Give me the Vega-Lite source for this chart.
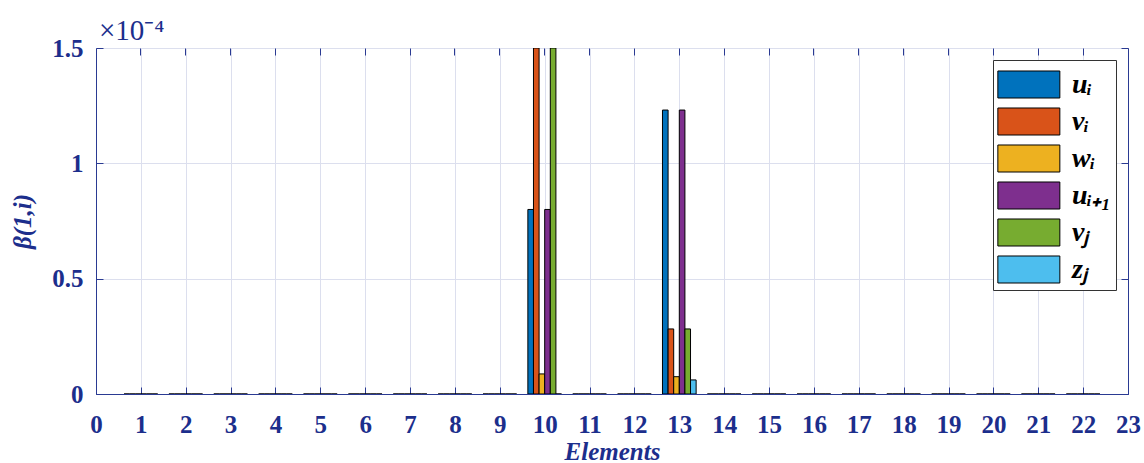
{
  "$schema": "https://vega.github.io/schema/vega-lite/v6.json",
  "width": 1032,
  "height": 346,
  "autosize": {"type": "none"},
  "padding": {"left": 96, "top": 48, "right": 16, "bottom": 69},
  "background": "white",
  "title": {"text": "×10⁻⁴", "anchor": "start", "frame": "group", "font": "Liberation Serif", "fontSize": 29, "fontWeight": "normal", "color": "#1c2e8c", "offset": 4, "dx": 3, "dy": 14},
  "config": {
    "view": {"stroke": "#2a3a92", "strokeWidth": 1},
    "axis": {"domainColor": "#2a3a92", "tickColor": "#2a3a92", "gridColor": "#dcdfee", "labelFont": "Liberation Serif", "labelFontWeight": "bold", "labelFontSize": 25, "labelColor": "#1c2e8c", "titleFont": "Liberation Serif", "titleFontWeight": "bold", "titleFontStyle": "italic", "titleFontSize": 25, "titleColor": "#1c2e8c"}
  },
  "data": {"values": [
    {"e":1,"s":"uᵢ","val":0},{"e":1,"s":"vᵢ","val":0},{"e":1,"s":"wᵢ","val":0},{"e":1,"s":"uᵢ₊₁","val":0},{"e":1,"s":"vⱼ","val":0},{"e":1,"s":"zⱼ","val":0},
    {"e":2,"s":"uᵢ","val":0},{"e":2,"s":"vᵢ","val":0},{"e":2,"s":"wᵢ","val":0},{"e":2,"s":"uᵢ₊₁","val":0},{"e":2,"s":"vⱼ","val":0},{"e":2,"s":"zⱼ","val":0},
    {"e":3,"s":"uᵢ","val":0},{"e":3,"s":"vᵢ","val":0},{"e":3,"s":"wᵢ","val":0},{"e":3,"s":"uᵢ₊₁","val":0},{"e":3,"s":"vⱼ","val":0},{"e":3,"s":"zⱼ","val":0},
    {"e":4,"s":"uᵢ","val":0},{"e":4,"s":"vᵢ","val":0},{"e":4,"s":"wᵢ","val":0},{"e":4,"s":"uᵢ₊₁","val":0},{"e":4,"s":"vⱼ","val":0},{"e":4,"s":"zⱼ","val":0},
    {"e":5,"s":"uᵢ","val":0},{"e":5,"s":"vᵢ","val":0},{"e":5,"s":"wᵢ","val":0},{"e":5,"s":"uᵢ₊₁","val":0},{"e":5,"s":"vⱼ","val":0},{"e":5,"s":"zⱼ","val":0},
    {"e":6,"s":"uᵢ","val":0},{"e":6,"s":"vᵢ","val":0},{"e":6,"s":"wᵢ","val":0},{"e":6,"s":"uᵢ₊₁","val":0},{"e":6,"s":"vⱼ","val":0},{"e":6,"s":"zⱼ","val":0},
    {"e":7,"s":"uᵢ","val":0},{"e":7,"s":"vᵢ","val":0},{"e":7,"s":"wᵢ","val":0},{"e":7,"s":"uᵢ₊₁","val":0},{"e":7,"s":"vⱼ","val":0},{"e":7,"s":"zⱼ","val":0},
    {"e":8,"s":"uᵢ","val":0},{"e":8,"s":"vᵢ","val":0},{"e":8,"s":"wᵢ","val":0},{"e":8,"s":"uᵢ₊₁","val":0},{"e":8,"s":"vⱼ","val":0},{"e":8,"s":"zⱼ","val":0},
    {"e":9,"s":"uᵢ","val":0},{"e":9,"s":"vᵢ","val":0},{"e":9,"s":"wᵢ","val":0},{"e":9,"s":"uᵢ₊₁","val":0},{"e":9,"s":"vⱼ","val":0},{"e":9,"s":"zⱼ","val":0},
    {"e":10,"s":"uᵢ","val":0.8},{"e":10,"s":"vᵢ","val":1.5},{"e":10,"s":"wᵢ","val":0.087},{"e":10,"s":"uᵢ₊₁","val":0.8},{"e":10,"s":"vⱼ","val":1.5},{"e":10,"s":"zⱼ","val":0},
    {"e":11,"s":"uᵢ","val":0},{"e":11,"s":"vᵢ","val":0},{"e":11,"s":"wᵢ","val":0},{"e":11,"s":"uᵢ₊₁","val":0},{"e":11,"s":"vⱼ","val":0},{"e":11,"s":"zⱼ","val":0},
    {"e":12,"s":"uᵢ","val":0},{"e":12,"s":"vᵢ","val":0},{"e":12,"s":"wᵢ","val":0},{"e":12,"s":"uᵢ₊₁","val":0},{"e":12,"s":"vⱼ","val":0},{"e":12,"s":"zⱼ","val":0},
    {"e":13,"s":"uᵢ","val":1.231},{"e":13,"s":"vᵢ","val":0.282},{"e":13,"s":"wᵢ","val":0.075},{"e":13,"s":"uᵢ₊₁","val":1.231},{"e":13,"s":"vⱼ","val":0.282},{"e":13,"s":"zⱼ","val":0.061},
    {"e":14,"s":"uᵢ","val":0},{"e":14,"s":"vᵢ","val":0},{"e":14,"s":"wᵢ","val":0},{"e":14,"s":"uᵢ₊₁","val":0},{"e":14,"s":"vⱼ","val":0},{"e":14,"s":"zⱼ","val":0},
    {"e":15,"s":"uᵢ","val":0},{"e":15,"s":"vᵢ","val":0},{"e":15,"s":"wᵢ","val":0},{"e":15,"s":"uᵢ₊₁","val":0},{"e":15,"s":"vⱼ","val":0},{"e":15,"s":"zⱼ","val":0},
    {"e":16,"s":"uᵢ","val":0},{"e":16,"s":"vᵢ","val":0},{"e":16,"s":"wᵢ","val":0},{"e":16,"s":"uᵢ₊₁","val":0},{"e":16,"s":"vⱼ","val":0},{"e":16,"s":"zⱼ","val":0},
    {"e":17,"s":"uᵢ","val":0},{"e":17,"s":"vᵢ","val":0},{"e":17,"s":"wᵢ","val":0},{"e":17,"s":"uᵢ₊₁","val":0},{"e":17,"s":"vⱼ","val":0},{"e":17,"s":"zⱼ","val":0},
    {"e":18,"s":"uᵢ","val":0},{"e":18,"s":"vᵢ","val":0},{"e":18,"s":"wᵢ","val":0},{"e":18,"s":"uᵢ₊₁","val":0},{"e":18,"s":"vⱼ","val":0},{"e":18,"s":"zⱼ","val":0},
    {"e":19,"s":"uᵢ","val":0},{"e":19,"s":"vᵢ","val":0},{"e":19,"s":"wᵢ","val":0},{"e":19,"s":"uᵢ₊₁","val":0},{"e":19,"s":"vⱼ","val":0},{"e":19,"s":"zⱼ","val":0},
    {"e":20,"s":"uᵢ","val":0},{"e":20,"s":"vᵢ","val":0},{"e":20,"s":"wᵢ","val":0},{"e":20,"s":"uᵢ₊₁","val":0},{"e":20,"s":"vⱼ","val":0},{"e":20,"s":"zⱼ","val":0},
    {"e":21,"s":"uᵢ","val":0},{"e":21,"s":"vᵢ","val":0},{"e":21,"s":"wᵢ","val":0},{"e":21,"s":"uᵢ₊₁","val":0},{"e":21,"s":"vⱼ","val":0},{"e":21,"s":"zⱼ","val":0},
    {"e":22,"s":"uᵢ","val":0},{"e":22,"s":"vᵢ","val":0},{"e":22,"s":"wᵢ","val":0},{"e":22,"s":"uᵢ₊₁","val":0},{"e":22,"s":"vⱼ","val":0},{"e":22,"s":"zⱼ","val":0}
  ]},
  "layer": [
    {
      "mark": {"type": "point", "opacity": 0},
      "encoding": {
        "x": {"field": "e", "type": "quantitative",
          "scale": {"domain": [0, 23], "nice": false, "zero": false},
          "axis": {"orient": "bottom", "title": "Elements", "values": [0,1,2,3,4,5,6,7,8,9,10,11,12,13,14,15,16,17,18,19,20,21,22,23], "format": "d", "labelAngle": 0, "grid": true, "tickSize": -7, "labelPadding": 25, "titlePadding": 2, "labelFlush": false, "labelOverlap": false}},
        "y": {"field": "val", "type": "quantitative",
          "scale": {"domain": [0, 1.5], "nice": false, "zero": true},
          "axis": {"orient": "right", "title": null, "labels": false, "grid": false, "values": [0, 0.5, 1, 1.5], "tickSize": -7}}
      }
    },
    {
      "mark": {"type": "bar", "clip": true, "stroke": "black", "strokeWidth": 1},
      "encoding": {
        "x": {"field": "e", "type": "ordinal",
          "scale": {"domain": [1,2,3,4,5,6,7,8,9,10,11,12,13,14,15,16,17,18,19,20,21,22], "paddingInner": 0, "paddingOuter": 0.5, "align": 0.5},
          "axis": {"orient": "top", "title": null, "labels": false, "grid": false, "tickSize": -7, "domain": false}},
        "xOffset": {"field": "s", "type": "nominal",
          "scale": {"domain": ["uᵢ","vᵢ","wᵢ","uᵢ₊₁","vⱼ","zⱼ"], "paddingInner": 0, "paddingOuter": 1.08}},
        "y": {"field": "val", "type": "quantitative",
          "axis": {"orient": "left", "title": "β(1,i)", "values": [0, 0.5, 1, 1.5], "format": "~g", "grid": true, "tickSize": -7, "labelPadding": 20, "titlePadding": 16}},
        "color": {"field": "s", "type": "nominal",
          "scale": {"domain": ["uᵢ","vᵢ","wᵢ","uᵢ₊₁","vⱼ","zⱼ"], "range": ["#0072BD","#D95319","#EDB120","#7E2F8E","#77AC30","#4DBEEE"]},
          "legend": {"orient": "top-right", "offset": 12, "title": null, "symbolType": "M-1,-0.687H2.155V0.687H-1Z", "symbolSize": 1545, "symbolStrokeColor": "black", "symbolStrokeWidth": 1, "symbolOpacity": 1, "labelFont": "Liberation Serif", "labelFontSize": 28, "labelFontStyle": "italic", "labelFontWeight": "bold", "labelColor": "black", "labelOffset": 34, "labelLimit": 0, "rowPadding": 0, "padding": 4, "strokeColor": "#333333", "fillColor": "white"}}
      }
    }
  ],
  "resolve": {"scale": {"x": "independent"}, "axis": {"x": "independent", "y": "independent"}}
}
